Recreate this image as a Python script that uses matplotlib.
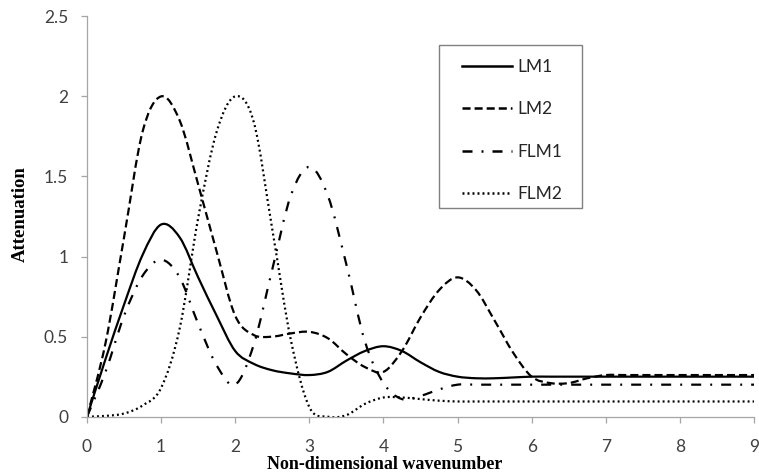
import numpy as np
import matplotlib
matplotlib.use('Agg')
import matplotlib.pyplot as plt
from matplotlib.path import Path
from matplotlib.patches import PathPatch, Rectangle
from matplotlib.lines import Line2D

# attenuation curves sampled every 0.25 in non-dimensional wavenumber
wavenumber = np.arange(0, 9.25, 0.25)
lm1 = [0.0, 0.36, 0.70, 1.01, 1.20, 1.12, 0.87, 0.63, 0.41, 0.33, 0.29, 0.27,
       0.26, 0.28, 0.35, 0.41, 0.44, 0.41, 0.34, 0.28, 0.25, 0.24, 0.24, 0.245,
       0.25, 0.25, 0.25, 0.25, 0.25, 0.25, 0.25, 0.25, 0.25, 0.25, 0.25, 0.25, 0.25]
lm2 = [0.0, 0.46, 1.12, 1.78, 2.0, 1.85, 1.45, 1.03, 0.63, 0.51, 0.50, 0.52,
       0.53, 0.49, 0.39, 0.31, 0.28, 0.41, 0.62, 0.79, 0.87, 0.79, 0.60, 0.40,
       0.25, 0.21, 0.21, 0.24, 0.26, 0.26, 0.26, 0.26, 0.26, 0.26, 0.26, 0.26, 0.26]
flm1 = [0.0, 0.28, 0.63, 0.88, 0.98, 0.87, 0.58, 0.32, 0.20, 0.45, 0.92, 1.38,
        1.56, 1.38, 0.95, 0.47, 0.21, 0.11, 0.13, 0.17, 0.20, 0.20, 0.20, 0.20,
        0.20, 0.20, 0.20, 0.20, 0.20, 0.20, 0.20, 0.20, 0.20, 0.20, 0.20, 0.20, 0.20]
flm2 = [0.0, 0.005, 0.02, 0.07, 0.18, 0.55, 1.24, 1.78, 2.0, 1.84, 1.17, 0.48,
        0.06, 0.0, 0.01, 0.08, 0.12, 0.12, 0.11, 0.10, 0.095, 0.095, 0.095, 0.095,
        0.095, 0.095, 0.095, 0.095, 0.095, 0.095, 0.095, 0.095, 0.095, 0.095, 0.095,
        0.095, 0.095]

series = [('LM1', lm1, '-'),
          ('LM2', lm2, (0, (5.8, 2.9))),
          ('FLM1', flm1, (0, (7.2, 6.5, 1.4, 6.5))),
          ('FLM2', flm2, (0, (1.4, 2.2)))]

plt.rcParams['lines.scale_dashes'] = False


def smooth_path(x, y):
    # cubic bezier through the points (catmull-rom tangents), like a spreadsheet "smoothed line"
    pts = np.column_stack([x, y])
    ext = np.vstack([pts[0], pts, pts[-1]])
    verts = [pts[0]]
    codes = [Path.MOVETO]
    for i in range(len(pts) - 1):
        p0, p1, p2, p3 = ext[i], ext[i + 1], ext[i + 2], ext[i + 3]
        verts += [p1 + (p2 - p0) / 6, p2 - (p3 - p1) / 6, p2]
        codes += [Path.CURVE4] * 3
    return Path(verts, codes)


W, H = 759, 472
fig = plt.figure(figsize=(W / 100, H / 100), dpi=100)
ax = fig.add_axes([87 / W, 55.3 / H, 667 / W, 400.4 / H])

handles = []
for name, vals, ls in series:
    patch = PathPatch(smooth_path(wavenumber, vals), fill=False, edgecolor='black',
                      linewidth=1.6, linestyle=ls)
    ax.add_patch(patch)
    handles.append(Line2D([], [], color='black', linewidth=1.8, linestyle=ls, label=name))

ax.set_xlim(0, 9)
ax.set_ylim(0, 2.5)
ax.set_xticks(range(10))
ax.set_xticklabels([str(i) for i in range(10)])
ax.set_yticks([0, 0.5, 1, 1.5, 2, 2.5])
ax.set_yticklabels(['0', '0.5', '1', '1.5', '2', '2.5'])

for s in ['top', 'right']:
    ax.spines[s].set_visible(False)
for s in ['left', 'bottom']:
    ax.spines[s].set_color('#a6a6a6')
    ax.spines[s].set_linewidth(0.9)
ax.tick_params(direction='out', length=4.5, width=0.9, color='#a6a6a6',
               labelcolor='#404040', labelsize=12.5)
ax.tick_params(axis='x', pad=11.5)
ax.tick_params(axis='y', pad=9)
for lbl in ax.get_xticklabels() + ax.get_yticklabels():
    lbl.set_fontfamily('Lato')

fig.text(20 / W, 1 - 214 / H, 'Attenuation', rotation=90, ha='center', va='center',
         fontfamily='Liberation Serif', fontweight='bold', fontsize=13.5)
fig.text(385 / W, 3 / H, 'Non-dimensional wavenumber', ha='center', va='baseline',
         fontfamily='Liberation Serif', fontweight='bold', fontsize=13)

# legend entries without their own frame; the box is drawn separately
leg = ax.legend(handles=handles, loc='upper left',
                bbox_to_anchor=(462 / W, 1 - 59 / H), bbox_transform=fig.transFigure,
                borderaxespad=0, borderpad=0, frameon=False, handlelength=2.87,
                handletextpad=0.3, labelspacing=1.52,
                prop={'family': 'Lato', 'size': 12.5})
for t in leg.get_texts():
    t.set_color('#262626')

fig.patches.append(Rectangle((439 / W, 1 - 208 / H), 143 / W, 163 / H,
                             transform=fig.transFigure, fill=False,
                             edgecolor='#808080', linewidth=1.0))

fig.savefig('out.png', dpi=100)
